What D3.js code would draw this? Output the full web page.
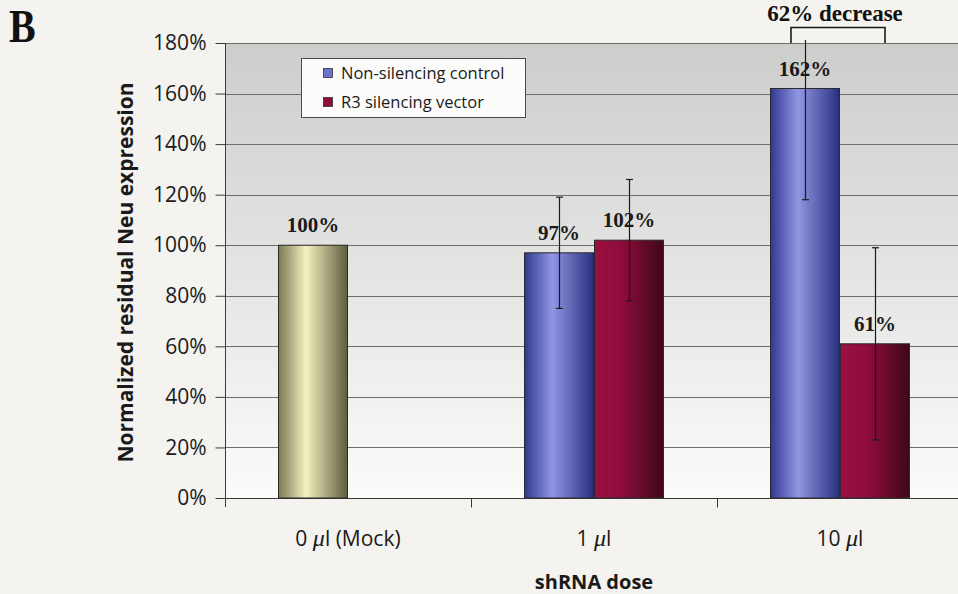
<!DOCTYPE html>
<html>
<head>
<meta charset="utf-8">
<script src="https://cdn.jsdelivr.net/npm/d3@7"></script>
<style>
  html, body { margin: 0; padding: 0; background: #f4f3ef; }
  svg { display: block; }
</style>
</head>
<body>
<svg id="chart" width="958" height="594"></svg>
<script>
// Dose groups and measured values (percent of mock)
const categories = ["0 μl (Mock)", "1 μl", "10 μl"];
const mockValues = [100, null, null];
const controlValues = [null, 97, 162];
const controlErrors = [null, 22, 44];
const silencingValues = [null, 102, 61];
const silencingErrors = [null, 24, 38];
const yTicks = [0, 20, 40, 60, 80, 100, 120, 140, 160, 180];
const legendLabels = ["Non-silencing control", "R3 silencing vector"];

const svg = d3.select("#chart");
const W = 958, H = 594;
const plot = { left: 225, right: 963, top: 43, bottom: 498 };
const sansFont = "'Open Sans', 'DejaVu Sans', sans-serif";
const serifFont = "'Liberation Serif', 'DejaVu Serif', serif";

const y = d3.scaleLinear().domain([0, 180]).range([plot.bottom, plot.top]);
const x = d3.scaleBand().domain(categories).range([plot.left, plot.right]).padding(0);
const slot = d3.scaleBand().domain(["left", "right"]).range([0, 140]).padding(0);
const groupStart = c => x(c) + x.bandwidth() / 2 - slot.range()[1] / 2;

const defs = svg.append("defs");

// Plot background: grey at the top fading to white at the bottom
const bg = defs.append("linearGradient").attr("id", "plotBg")
  .attr("x1", 0).attr("y1", 0).attr("x2", 0).attr("y2", 1);
bg.append("stop").attr("offset", "0%").attr("stop-color", "#cdcdcb");
bg.append("stop").attr("offset", "100%").attr("stop-color", "#fbfbf9");

// Cylinder-like horizontal shading for each bar colour
function barGradient(id, edgeL, mid, edgeR) {
  const g = defs.append("linearGradient").attr("id", id)
    .attr("x1", 0).attr("y1", 0).attr("x2", 1).attr("y2", 0);
  g.append("stop").attr("offset", "0%").attr("stop-color", edgeL);
  g.append("stop").attr("offset", "40%").attr("stop-color", mid);
  g.append("stop").attr("offset", "100%").attr("stop-color", edgeR);
}
barGradient("gMock", "#7d7956", "#f3f1be", "#5f5c40");
barGradient("gControl", "#2f3891", "#9296e2", "#28307e");
barGradient("gSilencing", "#9c1042", "#8e0c3c", "#3e0818");

svg.append("rect")
  .attr("x", plot.left).attr("y", plot.top)
  .attr("width", W - plot.left).attr("height", plot.bottom - plot.top)
  .attr("fill", "url(#plotBg)");

// Horizontal gridlines
svg.append("g").selectAll("line").data(yTicks.filter(t => t > 0)).join("line")
  .attr("x1", plot.left).attr("x2", W)
  .attr("y1", d => Math.round(y(d)) + 0.5).attr("y2", d => Math.round(y(d)) + 0.5)
  .attr("stroke", "#6e6e6c").attr("stroke-width", 1);

// Y axis
const yAxis = svg.append("g")
  .attr("transform", `translate(${plot.left + 0.5},0)`)
  .call(d3.axisLeft(y).tickValues(yTicks).tickFormat(d => d + "%").tickSize(10).tickPadding(9));
yAxis.select(".domain").attr("stroke", "#3a3a3a").attr("d", `M0,${plot.bottom + 9}V${plot.top}`);
yAxis.selectAll(".tick line").attr("stroke", "#3a3a3a");
yAxis.selectAll(".tick text")
  .attr("font-family", sansFont).attr("font-size", 21).attr("fill", "#1a1a1a");

// X axis: baseline with ticks between categories
const xAxis = svg.append("g").attr("transform", `translate(0,${plot.bottom + 0.5})`);
xAxis.append("line").attr("x1", plot.left).attr("x2", W).attr("stroke", "#3a3a3a");
xAxis.selectAll("line.tk").data(categories.slice(1)).join("line").attr("class", "tk")
  .attr("x1", d => Math.round(x(d)) + 0.5).attr("x2", d => Math.round(x(d)) + 0.5)
  .attr("y1", 0).attr("y2", 9).attr("stroke", "#3a3a3a");

// Category labels with italic μ
const catLabels = xAxis.selectAll("text.cat").data(categories).join("text").attr("class", "cat")
  .attr("x", d => x(d) + x.bandwidth() / 2).attr("y", 47)
  .attr("text-anchor", "middle").attr("font-family", sansFont).attr("font-size", 21).attr("fill", "#1a1a1a");
catLabels.each(function(d) {
  const t = d3.select(this);
  const i = d.indexOf("μ");
  t.append("tspan").text(d.slice(0, i));
  t.append("tspan").attr("font-style", "italic").attr("font-family", serifFont).attr("font-size", 24).text("μ");
  t.append("tspan").text(d.slice(i + 1));
});

// Build bar records from the series arrays
const bars = [];
categories.forEach((c, i) => {
  if (mockValues[i] != null) bars.push({ c, pos: "left", v: mockValues[i], err: null, fill: "url(#gMock)" });
  if (controlValues[i] != null) bars.push({ c, pos: "left", v: controlValues[i], err: controlErrors[i], fill: "url(#gControl)" });
  if (silencingValues[i] != null) bars.push({ c, pos: "right", v: silencingValues[i], err: silencingErrors[i], fill: "url(#gSilencing)" });
});

svg.append("g").selectAll("rect").data(bars).join("rect")
  .attr("x", d => groupStart(d.c) + slot(d.pos) + 0.5)
  .attr("y", d => y(d.v))
  .attr("width", slot.bandwidth() - 1)
  .attr("height", d => y(0) - y(d.v))
  .attr("fill", d => d.fill)
  .attr("stroke", "#2a2a2a").attr("stroke-width", 1);

// Value labels above bars
svg.append("g").selectAll("text").data(bars).join("text")
  .attr("x", d => groupStart(d.c) + slot(d.pos) + slot.bandwidth() / 2)
  .attr("y", d => y(d.v) - 13)
  .attr("text-anchor", "middle")
  .attr("font-family", serifFont).attr("font-weight", "bold").attr("font-size", 21).attr("fill", "#1a1a1a")
  .text(d => d.v + "%");

// Error bars (clipped to the top of the value axis)
const errG = svg.append("g").attr("stroke", "#1a1a1a").attr("stroke-width", 1.2);
bars.filter(d => d.err != null).forEach(d => {
  const cx = Math.round(groupStart(d.c) + slot(d.pos) + slot.bandwidth() / 2) + 0.5;
  const hiVal = d.v + d.err, loVal = d.v - d.err;
  const hiY = hiVal > 180 ? y(180) - 3 : y(hiVal);
  const loY = y(loVal);
  errG.append("line").attr("x1", cx).attr("x2", cx).attr("y1", hiY).attr("y2", loY);
  if (hiVal <= 180) errG.append("line").attr("x1", cx - 3.5).attr("x2", cx + 3.5).attr("y1", hiY).attr("y2", hiY);
  errG.append("line").attr("x1", cx - 3.5).attr("x2", cx + 3.5).attr("y1", loY).attr("y2", loY);
});

// Legend
const lg = svg.append("g").attr("transform", "translate(301,58)");
lg.append("rect").attr("x", 0.5).attr("y", 0.5).attr("width", 224).attr("height", 59)
  .attr("fill", "#fcfcfa").attr("stroke", "#4a4a4a");
const legendFills = ["#6d72cf", "#8e0c3c"];
legendLabels.forEach((lab, i) => {
  const row = lg.append("g").attr("transform", `translate(22,${15 + i * 29})`);
  row.append("rect").attr("x", 0.5).attr("y", -4.5).attr("width", 9).attr("height", 9)
    .attr("fill", legendFills[i]).attr("stroke", "#333").attr("stroke-width", 0.8);
  row.append("text").attr("x", 18).attr("y", 6)
    .attr("font-family", sansFont).attr("font-size", 16.5).attr("fill", "#1a1a1a").text(lab);
});

// Axis titles
svg.append("text")
  .attr("transform", `translate(133,${(plot.top + plot.bottom) / 2 + 2}) rotate(-90)`)
  .attr("text-anchor", "middle")
  .attr("font-family", sansFont).attr("font-weight", "bold").attr("font-size", 21).attr("fill", "#1a1a1a")
  .text("Normalized residual Neu expression");
svg.append("text")
  .attr("x", x("1 μl") + x.bandwidth() / 2).attr("y", 589)
  .attr("text-anchor", "middle")
  .attr("font-family", sansFont).attr("font-weight", "bold").attr("font-size", 20).attr("fill", "#1a1a1a")
  .text("shRNA dose");

// Panel letter
svg.append("text").attr("transform", "translate(9,42) scale(0.85,1)")
  .attr("font-family", serifFont).attr("font-weight", "bold").attr("font-size", 47).attr("fill", "#111")
  .text("B");

// Bracket comparing the two 10 μl bars
const bx1 = groupStart("10 μl") + slot("left") + slot.bandwidth() / 2 - 14;
const bx2 = groupStart("10 μl") + slot("right") + slot.bandwidth() / 2 + 10;
svg.append("path")
  .attr("d", `M${bx1},${plot.top}V27.5H${bx2}V${plot.top}`)
  .attr("fill", "none").attr("stroke", "#1a1a1a").attr("stroke-width", 1.6);
svg.append("text").attr("x", (bx1 + bx2) / 2 - 3).attr("y", 21)
  .attr("text-anchor", "middle")
  .attr("font-family", serifFont).attr("font-weight", "bold").attr("font-size", 23).attr("fill", "#111")
  .text("62% decrease");
</script>
</body>
</html>
